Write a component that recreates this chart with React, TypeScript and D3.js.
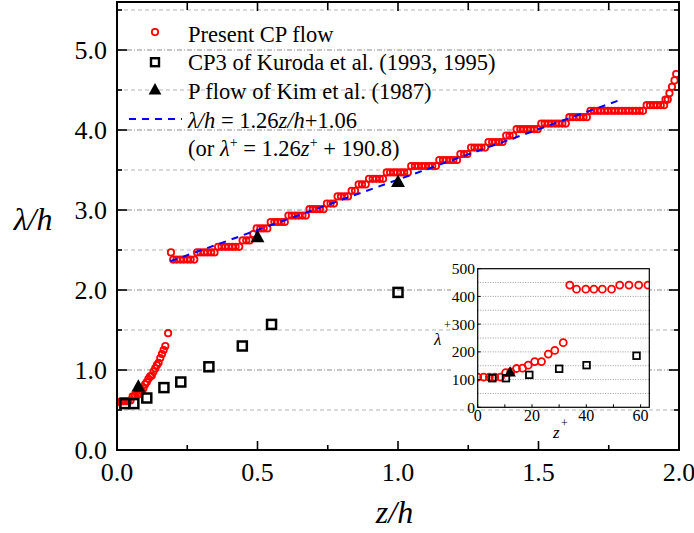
import React from 'react';
import * as d3 from 'd3';

// ---------- data ----------
// Present CP flow, near-wall branch
const presentLowZ = [0.000, 0.008, 0.016, 0.024, 0.032, 0.040, 0.048, 0.056, 0.064, 0.072, 0.080, 0.088, 0.094, 0.100, 0.106, 0.112, 0.118, 0.124, 0.130, 0.136, 0.142, 0.148, 0.154, 0.160, 0.166, 0.172, 0.182];
const presentLowL = [0.60, 0.60, 0.61, 0.61, 0.61, 0.61, 0.62, 0.67, 0.68, 0.69, 0.70, 0.74, 0.77, 0.82, 0.85, 0.89, 0.92, 0.93, 0.98, 1.02, 1.06, 1.09, 1.15, 1.20, 1.25, 1.30, 1.46];

// Present CP flow, outer branch: plateau levels and the z/h of each point on them
const presentLevelL = [2.47, 2.38, 2.47, 2.54, 2.62, 2.70, 2.77, 2.85, 2.93, 3.01, 3.08, 3.17, 3.24, 3.32, 3.39, 3.47, 3.55, 3.625, 3.70, 3.78, 3.85, 3.93, 4.01, 4.08, 4.16, 4.24, 4.31, 4.38, 4.46, 4.54, 4.62, 4.70];
const presentLevelZ = [
  [0.192],
  [0.200, 0.212, 0.225, 0.237, 0.250, 0.262, 0.275],
  [0.285, 0.297, 0.310, 0.322, 0.335, 0.347],
  [0.360, 0.372, 0.385, 0.397, 0.410, 0.422, 0.435],
  [0.447, 0.460, 0.472],
  [0.485],
  [0.497, 0.510, 0.522, 0.535],
  [0.547, 0.560, 0.572, 0.585, 0.597],
  [0.610, 0.622, 0.635, 0.647, 0.660, 0.672],
  [0.685, 0.697, 0.710, 0.722, 0.735],
  [0.747, 0.760, 0.772],
  [0.785, 0.797, 0.810, 0.822],
  [0.835, 0.847],
  [0.860, 0.872, 0.885],
  [0.897, 0.910, 0.922, 0.935, 0.947],
  [0.960, 0.972, 0.985, 0.997, 1.010, 1.022, 1.035],
  [1.047, 1.060, 1.072, 1.085, 1.097, 1.110, 1.122, 1.135],
  [1.147, 1.160, 1.172, 1.185, 1.197, 1.210],
  [1.222, 1.235, 1.247],
  [1.260, 1.272, 1.285, 1.297, 1.310],
  [1.322, 1.335, 1.347, 1.360, 1.372],
  [1.385, 1.397, 1.410],
  [1.422, 1.435, 1.447, 1.460, 1.472, 1.485, 1.497],
  [1.510, 1.522, 1.535, 1.547, 1.560, 1.572, 1.585, 1.597],
  [1.610, 1.622, 1.635, 1.647, 1.660, 1.672],
  [1.685, 1.697, 1.710, 1.722, 1.735, 1.747, 1.760, 1.772, 1.785, 1.797, 1.810, 1.822, 1.835, 1.847, 1.860, 1.872],
  [1.885, 1.897, 1.910, 1.922, 1.935, 1.947],
  [1.952, 1.960],
  [1.966],
  [1.975],
  [1.984],
  [1.990],
];

// CP3 of Kuroda et al.
const kurodaZ = [0.028, 0.060, 0.106, 0.167, 0.227, 0.327, 0.446, 0.550, 1.000];
const kurodaL = [0.58, 0.58, 0.65, 0.78, 0.85, 1.04, 1.30, 1.57, 1.97];

// P flow of Kim et al.
const kimZ = [0.076, 0.500, 1.000];
const kimL = [0.79, 2.66, 3.35];

// fit line drawn in the figure
const fitSlope = 1.26;
const fitIntercept = 2.12;
const fitZ = [0.19, 1.80];

// inset (wall units)
const insetRedZ = [0.0, 2.2, 4.3, 6.3, 8.4, 10.3, 12.2, 14.3, 16.5, 18.6, 21.0, 23.5, 26.0, 28.4, 31.5, 33.9, 36.4, 39.8, 42.8, 45.9, 49.3, 52.3, 55.7, 59.3, 62.7];
const insetRedL = [109, 109, 109, 109, 109, 125, 128, 140, 141, 152, 165, 165, 192, 205, 233, 441, 426, 426, 426, 426, 426, 441, 441, 441, 441];
const insetSqZ = [5.4, 10.4, 19.0, 30.0, 40.1, 58.5];
const insetSqL = [105, 105, 117, 139, 152, 186];
const insetTriZ = [11.9];
const insetTriL = [126];

// ticks
const xMajor = [0, 0.5, 1.0, 1.5, 2.0];
const xMinor = [0.25, 0.75, 1.25, 1.75];
const yMajor = [0, 1, 2, 3, 4, 5];
const yMinor = [0.5, 1.5, 2.5, 3.5, 4.5, 5.5];
const insetXTicks = [0, 20, 40, 60];
const insetXMinor = [10, 30, 50];
const insetYTicks = [0, 100, 200, 300, 400, 500];
const insetYGrid = [50, 100, 150, 200, 250, 300, 350, 400, 450];

const legendLabels = ['Present CP flow', 'CP3 of Kuroda et al. (1993, 1995)', 'P flow of Kim et al. (1987)'];

// ---------- layout ----------
const W = 694, H = 533;
const L = 117, R = 679, T = 2, B = 450;
const IL = 477.7, IR = 649.3, IT = 268.7, IB = 407.3;
const FONT = "'Liberation Serif', 'Times New Roman', serif";

export default function App() {
  const x = d3.scaleLinear().domain([0, 2]).range([L, R]);
  const y = d3.scaleLinear().domain([0, 5.6]).range([B, T]);
  const ix = d3.scaleLinear().domain([0, 63.2]).range([IL, IR]);
  const iy = d3.scaleLinear().domain([0, 500]).range([IB, IT]);

  const red = '#ff0000';
  const upper: [number, number][] = [];
  presentLevelZ.forEach((zs, i) => zs.forEach(z => upper.push([z, presentLevelL[i]])));
  const lower: [number, number][] = presentLowZ.map((z, i) => [z, presentLowL[i]]);
  const present = lower.concat(upper);

  const fitLine = d3.line<number>().x(z => x(z)).y(z => y(fitSlope * z + fitIntercept));

  const tri = (cx: number, cy: number, s: number) =>
    `M${cx},${cy - s * 0.62}L${cx + s * 0.58},${cy + s * 0.42}L${cx - s * 0.58},${cy + s * 0.42}Z`;

  const legBase = (i: number) => 41.5 + i * 28.7;

  return (
    <svg width={W} height={H} style={{ position: 'absolute', left: 0, top: 0, background: '#fff', fontFamily: FONT }}>
      <defs>
        <clipPath id="mainClip"><rect x={L} y={T} width={R - L} height={B - T} /></clipPath>
        <clipPath id="insetClip"><rect x={IL} y={IT} width={IR - IL} height={IB - IT} /></clipPath>
      </defs>
      <rect x={0} y={0} width={W} height={H} fill="#fff" />

      {/* grid */}
      {yMinor.map(v => (
        <line key={'gm' + v} x1={L} x2={R} y1={y(v)} y2={y(v)} stroke="#b4b4b4" strokeWidth={1} strokeDasharray="4 3" />
      ))}
      {yMajor.filter(v => v > 0).map(v => (
        <line key={'gM' + v} x1={L} x2={R} y1={y(v)} y2={y(v)} stroke="#8c8c8c" strokeWidth={1} strokeDasharray="5 2 1 2" />
      ))}

      {/* legend */}
      <g fontSize={22.5} fill="#000">
        <circle cx={155} cy={legBase(0) - 9.4} r={3.2} fill="none" stroke={red} strokeWidth={1.8} />
        <rect x={151} y={legBase(1) - 12} width={8} height={8} fill="none" stroke="#000" strokeWidth={2.4} />
        <path d={tri(155, legBase(2) - 9, 11)} fill="#000" />
        <line x1={129} x2={182} y1={legBase(3) - 8.7} y2={legBase(3) - 8.7} stroke="#0000ff" strokeWidth={2} strokeDasharray="7 6" />
        {legendLabels.map((t, i) => (
          <text key={t} x={188} y={legBase(i)}>{t}</text>
        ))}
        <text x={188} y={legBase(3)}>
          <tspan fontStyle="italic">λ/h</tspan>
          <tspan> = 1.26</tspan>
          <tspan fontStyle="italic">z/h</tspan>
          <tspan>+1.06</tspan>
        </text>
        <text x={188} y={legBase(4)}>
          <tspan>(or </tspan>
          <tspan fontStyle="italic">λ</tspan>
          <tspan fontSize={14} dy={-9}>+</tspan>
          <tspan dy={9}> = 1.26</tspan>
          <tspan fontStyle="italic">z</tspan>
          <tspan fontSize={14} dy={-9}>+</tspan>
          <tspan dy={9}> + 190.8)</tspan>
        </text>
      </g>

      {/* main data */}
      <g clipPath="url(#mainClip)">
        {present.map((d, i) => (
          <circle key={'p' + i} cx={x(d[0])} cy={y(d[1])} r={3.2} fill="none" stroke={red} strokeWidth={1.8} />
        ))}
        <path d={fitLine(fitZ) || ''} fill="none" stroke="#0000ff" strokeWidth={2} strokeDasharray="7 6" />
        {kurodaZ.map((z, i) => (
          <rect key={'k' + i} x={x(z) - 4.5} y={y(kurodaL[i]) - 4.5} width={9} height={9} fill="none" stroke="#000" strokeWidth={2.5} />
        ))}
        {kimZ.map((z, i) => (
          <path key={'t' + i} d={tri(x(z), y(kimL[i]), 12)} fill="#000" />
        ))}
      </g>

      {/* main frame and ticks */}
      <g stroke="#000">
        {xMajor.map(v => (
          <g key={'xt' + v}>
            <line x1={x(v)} x2={x(v)} y1={B} y2={B - 9} strokeWidth={1.6} />
            <line x1={x(v)} x2={x(v)} y1={T} y2={T + 9} strokeWidth={1.6} />
          </g>
        ))}
        {xMinor.map(v => (
          <g key={'xm' + v}>
            <line x1={x(v)} x2={x(v)} y1={B} y2={B - 5} strokeWidth={1.6} />
            <line x1={x(v)} x2={x(v)} y1={T} y2={T + 8} strokeWidth={1.6} />
          </g>
        ))}
        {yMajor.map(v => (
          <g key={'yt' + v}>
            <line x1={L} x2={L + 10} y1={y(v)} y2={y(v)} strokeWidth={1.6} />
            <line x1={R} x2={R - 10} y1={y(v)} y2={y(v)} strokeWidth={1.6} />
          </g>
        ))}
        {yMinor.map(v => (
          <g key={'ym' + v}>
            <line x1={L} x2={L + 5} y1={y(v)} y2={y(v)} strokeWidth={1.6} />
            <line x1={R} x2={R - 5} y1={y(v)} y2={y(v)} strokeWidth={1.6} />
          </g>
        ))}
        <rect x={L} y={T} width={R - L} height={B - T} fill="none" strokeWidth={2} />
      </g>

      {/* main tick labels */}
      <g fontSize={26} fill="#000">
        {xMajor.map(v => (
          <text key={'xl' + v} x={x(v)} y={481} textAnchor="middle">{v.toFixed(1)}</text>
        ))}
        {yMajor.map(v => (
          <text key={'yl' + v} x={107} y={y(v)} dy="0.35em" textAnchor="end">{v.toFixed(1)}</text>
        ))}
      </g>
      <text x={33} y={230} fontSize={32} fontStyle="italic" textAnchor="middle">λ/h</text>
      <text x={394.5} y={523} fontSize={32} fontStyle="italic" textAnchor="middle">z/h</text>

      {/* inset */}
      <rect x={451} y={262} width={IR - 451 + 0.5} height={IB - 262} fill="#fff" />
      {insetYGrid.map(v => (
        <line key={'ig' + v} x1={IL} x2={IR} y1={iy(v)} y2={iy(v)} stroke="#9a9a9a" strokeWidth={1} strokeDasharray="1 1.5" />
      ))}
      <g clipPath="url(#insetClip)">
        {insetRedZ.map((z, i) => (
          <circle key={'ir' + i} cx={ix(z)} cy={iy(insetRedL[i])} r={3.5} fill="none" stroke={red} strokeWidth={1.8} />
        ))}
        {insetSqZ.map((z, i) => (
          <rect key={'is' + i} x={ix(z) - 3.3} y={iy(insetSqL[i]) - 3.3} width={6.6} height={6.6} fill="none" stroke="#000" strokeWidth={1.8} />
        ))}
        {insetTriZ.map((z, i) => (
          <path key={'it' + i} d={tri(ix(z), iy(insetTriL[i]), 10)} fill="#000" />
        ))}
      </g>
      <g stroke="#000" strokeWidth={1}>
        {insetXTicks.concat(insetXMinor).map(v => (
          <line key={'ixt' + v} x1={ix(v)} x2={ix(v)} y1={IB} y2={IB - 3} />
        ))}
        {insetYTicks.map(v => (
          <line key={'iyt' + v} x1={IL} x2={IL + 3} y1={iy(v)} y2={iy(v)} />
        ))}
        <rect x={IL} y={IT} width={IR - IL} height={IB - IT} fill="none" strokeWidth={1.2} />
      </g>
      <g fontSize={15.5} fill="#000">
        {insetYTicks.map(v => (
          <text key={'iyl' + v} x={475} y={iy(v)} dy="0.35em" textAnchor="end">{v}</text>
        ))}
        {insetXTicks.map(v => (
          <text key={'ixl' + v} x={ix(v)} y={421} textAnchor="middle" fontSize={16}>{v}</text>
        ))}
      </g>
      <text x={434} y={345} fontSize={17} fontStyle="italic">λ</text>
      <text x={444} y={329} fontSize={12}>+</text>
      <text x={553} y={438} fontSize={17} fontStyle="italic">z</text>
      <text x={561} y={427} fontSize={12}>+</text>
    </svg>
  );
}
